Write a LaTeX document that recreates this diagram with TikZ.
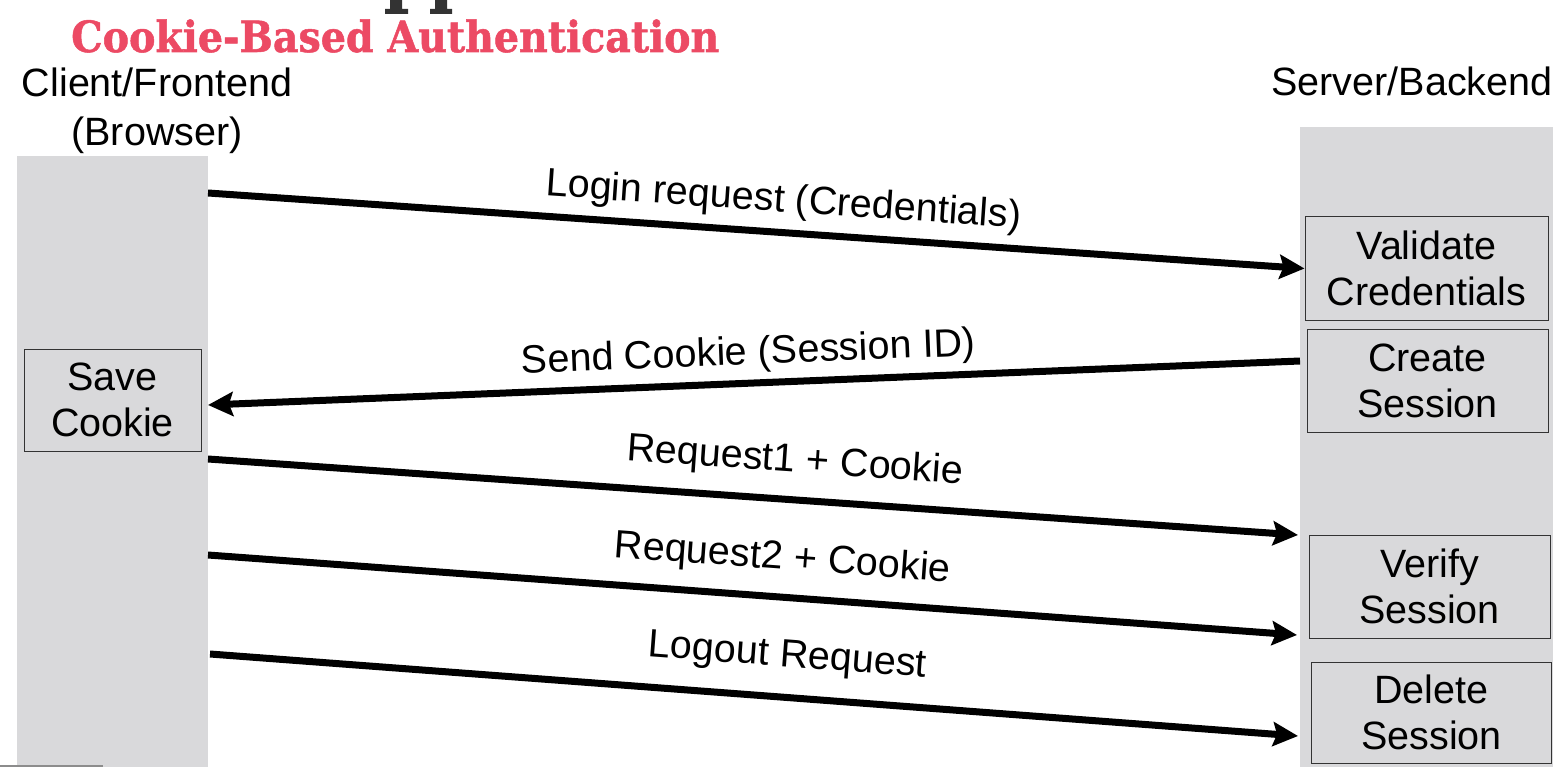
\documentclass[tikz,border=0pt]{standalone}
\usepackage{fontspec}
\setmainfont{Liberation Sans}
\newfontfamily\titlefont[FakeStretch=0.92,FakeBold=1.2]{DejaVu Serif Bold}
\usetikzlibrary{arrows.meta}
\definecolor{lanegray}{RGB}{217,217,219}
\definecolor{titlered}{RGB}{236,74,100}
\tikzset{
  lane/.style={fill=lanegray, inner sep=0pt},
  stepbox/.style={draw=black!80, fill=lanegray, line width=1pt, align=center,
    inner sep=0pt, font=\fontsize{39.5}{46}\selectfont},
  msg/.style={line width=7pt, -{Stealth[length=25pt,width=24pt,inset=4pt]}},
  lbl/.style={sloped, inner sep=0pt, font=\fontsize{39.5}{46}\selectfont},
}
\begin{document}
\begin{tikzpicture}[x=1pt,y=-1pt]
  \useasboundingbox (0,0) rectangle (1562,767);
  % title, with the cut-off line above it
  \fill[black!80] (390,0) rectangle (402,10) (385,9) rectangle (408,14)
    (435,0) rectangle (447,10) (430,9) rectangle (452,14);
  \node[anchor=base west, inner sep=0pt, text=titlered,
    font=\titlefont\fontsize{43}{50}\selectfont] (title) at (71,52) {Cookie-Based Authentication};
  % lanes
  \node[lane, minimum width=191pt, minimum height=611pt] (client) at (112.5,461.5) {};
  \node[lane, minimum width=253pt, minimum height=640pt] (server) at (1426.5,447) {};
  \draw[black!45, line width=2pt] (0,765.5) -- (103,765.5);
  \node[align=center, font=\fontsize{39.5}{49}\selectfont] (clienthead) at (157,111) {Client/Frontend\\(Browser)};
  \node[anchor=base, inner sep=0pt, font=\fontsize{39.5}{46}\selectfont] (serverhead) at (1412,96) {Server/Backend};
  % steps
  \node[stepbox, minimum width=177pt, minimum height=102pt] (save) at (112.5,400) {Save\\Cookie};
  \node[stepbox, minimum width=243pt, minimum height=103pt] (valid) at (1426.5,268.5) {Validate\\Credentials};
  \node[stepbox, minimum width=241pt, minimum height=103pt] (create) at (1427.5,380.5) {Create\\Session};
  \node[stepbox, minimum width=241pt, minimum height=103pt] (verify) at (1429.5,586.5) {Verify\\Session};
  \node[stepbox, minimum width=240pt, minimum height=101pt] (delete) at (1431.5,712.5) {Delete\\Session};
  % message ends
  \coordinate (c1) at (208,193);
  \coordinate (s2) at (1300,361);
  \coordinate (c2) at (208,405);
  \coordinate (c3) at (208,459);
  \coordinate (s3) at (1298,535);
  \coordinate (c4) at (208,555);
  \coordinate (s4) at (1297,635);
  \coordinate (c5) at (210,654);
  \coordinate (s5) at (1298,736);
  % messages
  \draw[msg] (c1) -- (valid.west) node[lbl, pos=0.523, above=9pt] {Login request (Credentials)};
  \draw[msg] (s2) -- (c2) node[lbl, pos=0.504, above=7pt] {Send Cookie (Session ID)};
  \draw[msg] (c3) -- (s3) node[lbl, pos=0.536, above=16pt] {Request1 + Cookie};
  \draw[msg] (c4) -- (s4) node[lbl, pos=0.525, above=16pt] {Request2 + Cookie};
  \draw[msg] (c5) -- (s5) node[lbl, pos=0.528, above=19pt] {Logout Request};
\end{tikzpicture}
\end{document}
